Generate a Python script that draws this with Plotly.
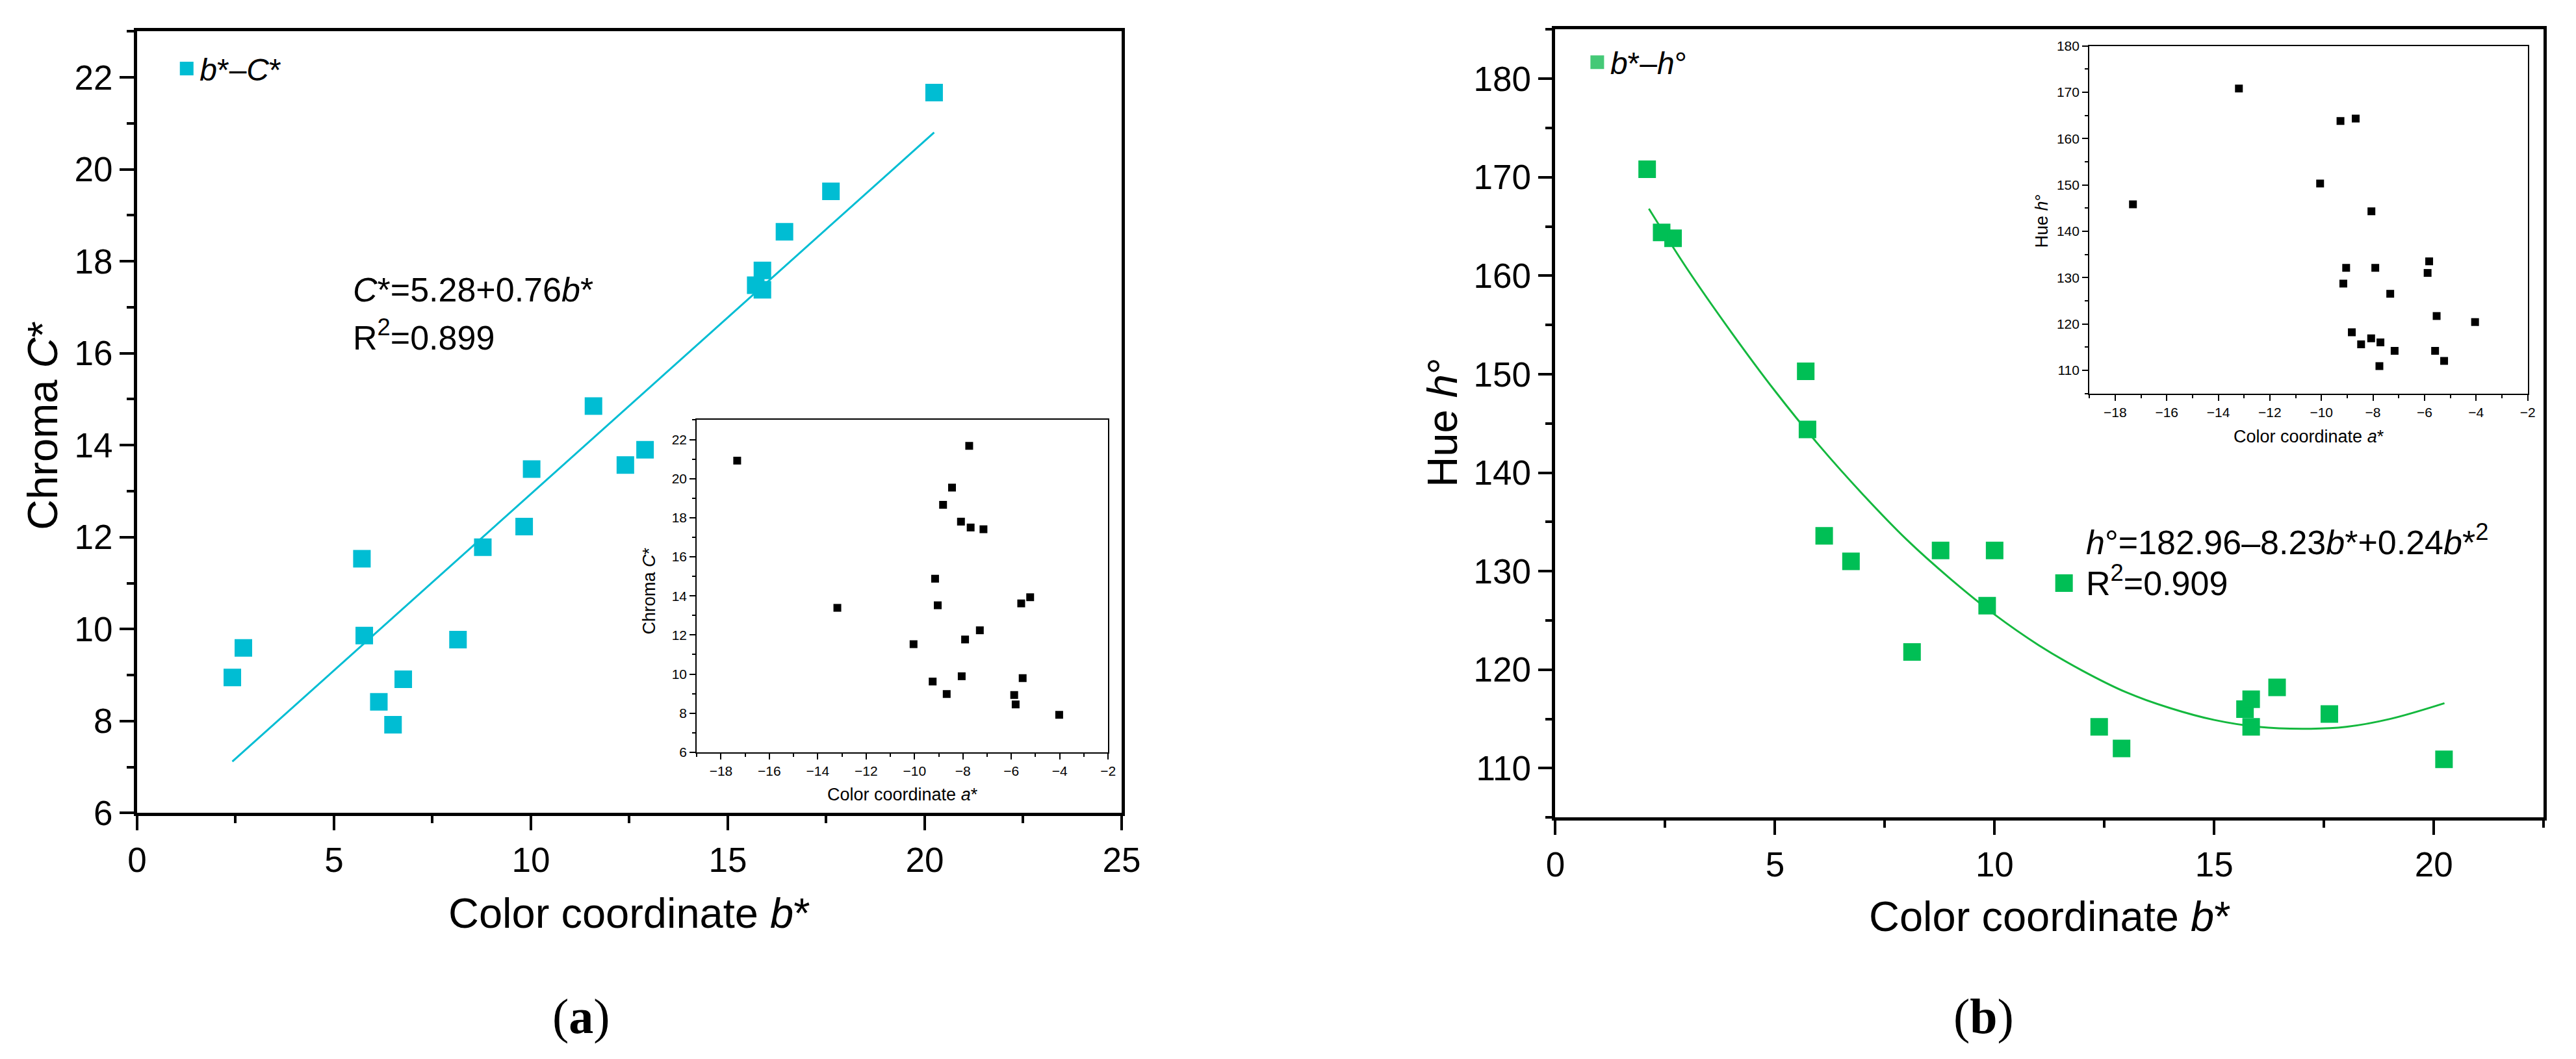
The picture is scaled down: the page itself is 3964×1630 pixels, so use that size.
import plotly.graph_objects as go

W, H = 3964, 1630

# ---------------- data ----------------
# panel (a): b* vs C*
a_b = [2.42, 2.70, 5.71, 5.77, 6.14, 6.50, 6.76, 8.15, 8.78, 9.83, 10.02, 11.59,
       12.40, 12.90, 15.71, 15.88, 15.88, 16.44, 17.62, 20.24]
a_C = [8.95, 9.59, 11.53, 9.86, 8.42, 7.92, 8.91, 9.77, 11.78, 12.23, 13.48, 14.85,
       13.57, 13.90, 17.48, 17.80, 17.38, 18.64, 19.52, 21.67]
a_fit_b = [2.42, 20.24]
a_fit_C = [7.12, 20.80]

# inset (a): a* vs C*
ia_a = [-17.33, -7.74, -8.45, -8.82, -8.08, -7.68, -7.15, -9.15, -13.19, -9.04, -5.59,
        -5.22, -7.30, -7.91, -10.04, -9.25, -8.05, -8.67, -5.53, -5.88, -5.82, -4.02]
ia_C = [20.92, 21.68, 19.54, 18.66, 17.80, 17.50, 17.41, 14.88, 13.39, 13.52, 13.62,
        13.93, 12.24, 11.77, 11.53, 9.62, 9.89, 8.98, 9.79, 8.93, 8.45, 7.92]

# panel (b): b* vs h°
b_b = [2.09, 2.42, 2.68, 5.70, 5.74, 6.12, 6.73, 8.12, 8.77, 9.83, 10.00, 11.58,
       12.38, 12.89, 15.70, 15.84, 15.84, 16.43, 17.62, 20.23]
b_h = [170.8, 164.4, 163.8, 150.3, 144.4, 133.6, 131.0, 121.8, 132.1, 126.5, 132.1, 128.8,
       114.2, 112.0, 116.0, 117.0, 114.2, 118.2, 115.5, 110.9]
b_fit_b = [2.13, 3, 4, 5, 6, 7, 8, 9, 10, 11, 12, 13, 14, 15, 16, 17, 18, 19, 20.24]
b_fit_h = [166.8, 160.7, 154.3, 148.3, 142.8, 137.8, 133.2, 129.2, 125.6, 122.5, 119.9,
           117.7, 116.1, 114.9, 114.2, 114.0, 114.2, 115.0, 116.6]

# inset (b): a* vs h°
ib_a = [-17.31, -13.20, -9.26, -8.67, -10.05, -8.06, -5.82, -9.04, -7.91, -5.88, -9.15,
        -7.33, -5.53, -4.04, -8.82, -8.07, -8.46, -7.71, -7.16, -5.59, -5.24, -7.75]
ib_h = [145.8, 170.8, 163.8, 164.3, 150.3, 144.3, 133.5, 132.1, 132.1, 131.0, 128.7,
        126.5, 121.7, 120.4, 118.2, 116.9, 115.6, 116.0, 114.2, 114.2, 112.0, 110.9]

# ---------------- style ----------------
FONT = "Liberation Sans"
CYAN = "#00BDD3"
GREEN = "#00BF55"
GREEN_LEG = "#45C977"
GREEN_LINE = "#14B83E"


def px(x):
    return x / W


def py(y):
    return 1 - y / H


fig = go.Figure()

fig.add_trace(go.Scatter(x=a_fit_b, y=a_fit_C, mode="lines", line=dict(color=CYAN, width=3),
                         xaxis="x", yaxis="y", showlegend=False))
fig.add_trace(go.Scatter(x=a_b, y=a_C, mode="markers", name="<i>b</i>*–<i>C</i>*",
                         marker=dict(symbol="square", size=22, color=CYAN,
                                     line=dict(color=CYAN, width=5)),
                         xaxis="x", yaxis="y", legend="legend"))
fig.add_trace(go.Scatter(x=ia_a, y=ia_C, mode="markers",
                         marker=dict(symbol="square", size=12, color="black"),
                         xaxis="x3", yaxis="y3", showlegend=False))

fig.add_trace(go.Scatter(x=b_fit_b, y=b_fit_h, mode="lines",
                         line=dict(color=GREEN_LINE, width=3, shape="spline"),
                         xaxis="x2", yaxis="y2", showlegend=False))
fig.add_trace(go.Scatter(x=b_b, y=b_h, mode="markers", name="<i>b</i>*–<i>h</i>°",
                         marker=dict(symbol="square", size=22, color=GREEN,
                                     line=dict(color=GREEN, width=5)),
                         xaxis="x2", yaxis="y2", showlegend=False))
# legend entry for panel (b) (drawn in a lighter green in the original legend)
fig.add_trace(go.Scatter(x=[None], y=[None], mode="markers", name="<i>b</i>*–<i>h</i>°",
                         marker=dict(symbol="square", size=22, color=GREEN_LEG,
                                     line=dict(color=GREEN_LEG, width=5)),
                         xaxis="x2", yaxis="y2", legend="legend2"))
fig.add_trace(go.Scatter(x=ib_a, y=ib_h, mode="markers",
                         marker=dict(symbol="square", size=12, color="black"),
                         xaxis="x4", yaxis="y4", showlegend=False))


def main_axis(domain, rng, dtick, tick0, minor_dtick, anchor):
    return dict(domain=domain, range=rng, dtick=dtick, tick0=tick0, anchor=anchor,
                ticks="outside", ticklen=22, tickwidth=4, tickcolor="black",
                showline=True, linewidth=4.5, linecolor="black", mirror=True,
                showgrid=False, zeroline=False,
                tickfont=dict(family=FONT, size=53, color="black"),
                minor=dict(ticks="outside", ticklen=11, tickwidth=4, tickcolor="black",
                           dtick=minor_dtick, tick0=tick0, showgrid=False))


def inset_axis(domain, rng, dtick, tick0, minor_dtick, anchor):
    return dict(domain=domain, range=rng, dtick=dtick, tick0=tick0, anchor=anchor,
                ticks="outside", ticklen=9, tickwidth=2, tickcolor="black",
                showline=True, linewidth=2, linecolor="black", mirror=True,
                showgrid=False, zeroline=False,
                tickfont=dict(family=FONT, size=21, color="black"),
                minor=dict(ticks="outside", ticklen=5, tickwidth=2, tickcolor="black",
                           dtick=minor_dtick, tick0=tick0, showgrid=False))


fig.update_layout(
    width=W, height=H, autosize=False,
    margin=dict(l=0, r=0, t=0, b=0),
    paper_bgcolor="white", plot_bgcolor="white",
    font=dict(family=FONT, color="black"),
    xaxis=main_axis([px(190), px(1722)], [0, 25], 5, 0, 2.5, "y"),
    yaxis=main_axis([py(1264), py(29)], [6, 23], 2, 6, 1, "x"),
    xaxis2=main_axis([px(2397), px(3935)], [0, 22.5], 5, 0, 2.5, "y2"),
    yaxis2=main_axis([py(1271), py(26)], [105, 185], 10, 110, 5, "x2"),
    xaxis3=inset_axis([px(1061), px(1701)], [-19, -2], 2, -18, 1, "y3"),
    yaxis3=inset_axis([py(1168), py(643)], [6, 23], 2, 6, 1, "x3"),
    xaxis4=inset_axis([px(3228), px(3910)], [-19, -2], 2, -18, 1, "y4"),
    yaxis4=inset_axis([py(601), py(52)], [105, 180], 10, 110, 5, "x4"),
    legend=dict(x=px(247), y=py(88), xanchor="left", yanchor="middle",
                bgcolor="rgba(0,0,0,0)", borderwidth=0, itemwidth=30,
                font=dict(family=FONT, size=48, color="black")),
    legend2=dict(x=px(2442), y=py(78), xanchor="left", yanchor="middle",
                 bgcolor="rgba(0,0,0,0)", borderwidth=0, itemwidth=30,
                 font=dict(family=FONT, size=48, color="black")),
)

ann = []


def text(x, y, s, size, xanchor="center", angle=0, family=FONT):
    ann.append(dict(x=px(x), y=py(y), xref="paper", yref="paper", text=s, showarrow=False,
                    xanchor=xanchor, yanchor="middle", textangle=angle,
                    font=dict(family=family, size=size, color="black")))


# axis titles
text(956, 1422, "Color coordinate <i>b</i>*", 65)
text(3166, 1427, "Color coordinate <i>b</i>*", 65)
text(43, 652, "Chroma <i>C</i>*", 65, angle=-90)
text(2221, 647, "Hue <i>h</i>°", 65, angle=-90)
# inset titles
text(1381, 1235, "Color coordinate <i>a</i>*", 27)
text(987, 913, "Chroma <i>C</i>*", 27, angle=-90)
text(3570, 669, "Color coordinate <i>a</i>*", 27)
text(3154, 328, "Hue <i>h</i>°", 27, angle=-90)
# equations
text(524, 437, "<i>C</i>*=5.28+0.76<i>b</i>*", 52, xanchor="left")
text(524, 509, "R<sup>2</sup>=0.899", 52, xanchor="left")
text(3221, 832, "<i>h</i>°=182.96–8.23<i>b</i>*+0.24<i>b</i>*<sup>2</sup>", 52, xanchor="left")
text(3221, 897, "R<sup>2</sup>=0.909", 52, xanchor="left")
# panel labels
text(881, 1585, "(<b>a</b>)", 76, family="Liberation Serif")
text(3063, 1585, "(<b>b</b>)", 76, family="Liberation Serif")

fig.update_layout(annotations=ann)

fig.write_html("out.html")
